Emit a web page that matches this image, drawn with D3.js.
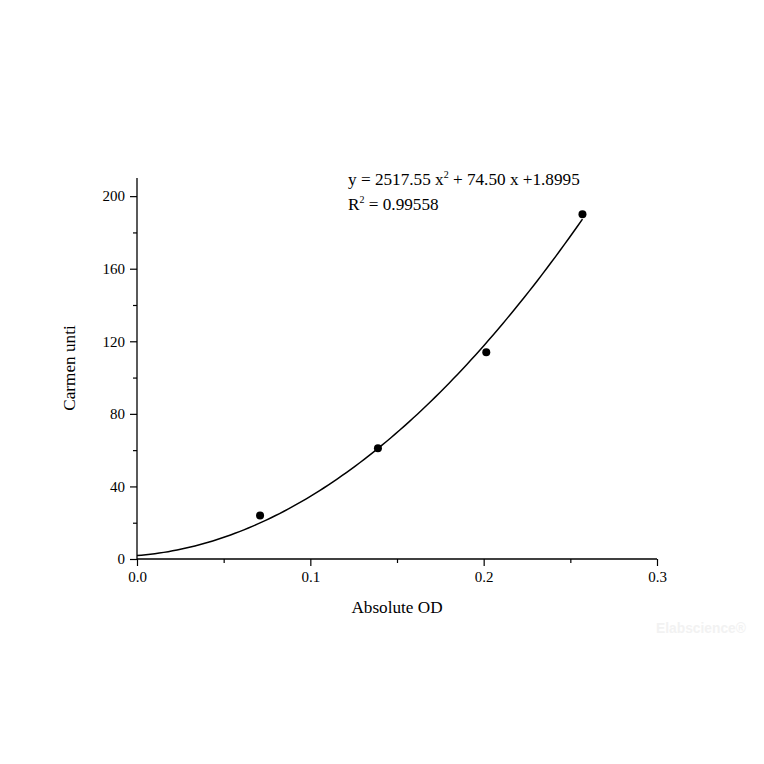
<!DOCTYPE html>
<html>
<head>
<meta charset="utf-8">
<script src="https://cdn.jsdelivr.net/npm/d3@7/dist/d3.min.js"></script>
<style>
  body { margin: 0; background: #fff; }
  svg text { font-family: "Liberation Serif", "Times New Roman", serif; fill: #000; }
</style>
</head>
<body>
<svg id="chart" width="764" height="764"></svg>
<script>
// standard curve points
var odValues = [0.071, 0.139, 0.2015, 0.257];
var unitValues = [24, 61, 114, 190];
// fit coefficients: a x^2 + b x + c
var fitCoef = [2517.55, 74.50, 1.8995];
var fitRange = [0, 0.257];
var xTicks = [0, 0.1, 0.2, 0.3];
var xMinor = [0.05, 0.15, 0.25];
var yTicks = [0, 40, 80, 120, 160, 200];
var yMinor = [20, 60, 100, 140, 180];

var svg = d3.select('#chart');
var plotLeft = 137, plotRight = 657, plotTop = 178, plotBottom = 559;

var x = d3.scaleLinear().domain([0, 0.3]).range([plotLeft, plotRight]);
var y = d3.scaleLinear().domain([0, 210]).range([plotBottom, plotTop]);

function fit(v) { return fitCoef[0] * v * v + fitCoef[1] * v + fitCoef[2]; }

// x axis
var gx = svg.append('g').attr('transform', 'translate(0,' + plotBottom + ')');
gx.call(d3.axisBottom(x).tickValues(xTicks).tickSize(7).tickPadding(5)
    .tickFormat(d3.format('.1f')));
gx.append('g').call(d3.axisBottom(x).tickValues(xMinor).tickSize(4).tickFormat(''))
  .select('.domain').remove();

// y axis
var gy = svg.append('g').attr('transform', 'translate(' + plotLeft + ',0)');
gy.call(d3.axisLeft(y).tickValues(yTicks).tickSize(7).tickPadding(5)
    .tickFormat(d3.format('d')));
gy.append('g').call(d3.axisLeft(y).tickValues(yMinor).tickSize(4).tickFormat(''))
  .select('.domain').remove();

gx.select('.domain').attr('d', 'M' + plotLeft + ',0H' + plotRight).attr('stroke-width', 1.3);
gy.select('.domain').attr('d', 'M0,' + plotBottom + 'V' + plotTop).attr('stroke-width', 1.3);
svg.selectAll('.tick line').attr('stroke-width', 1.2);
svg.selectAll('.tick text').attr('font-size', 15)
  .style('font-family', '"Liberation Serif", "Times New Roman", serif');

// fit curve
var curvePts = d3.range(0, 101).map(function(i) {
  var v = fitRange[0] + (fitRange[1] - fitRange[0]) * i / 100;
  return [v, fit(v)];
});
svg.append('path')
  .datum(curvePts)
  .attr('fill', 'none')
  .attr('stroke', '#000')
  .attr('stroke-width', 1.5)
  .attr('d', d3.line().x(function(d) { return x(d[0]); }).y(function(d) { return y(d[1]); }));

// points
svg.selectAll('circle.pt')
  .data(odValues)
  .enter()
  .append('circle')
  .attr('class', 'pt')
  .attr('cx', function(d) { return x(d); })
  .attr('cy', function(d, i) { return y(unitValues[i]); })
  .attr('r', 4)
  .attr('fill', '#000');

// equation
var eq = svg.append('text').attr('x', 348).attr('y', 185).attr('font-size', 17.2);
eq.append('tspan').text('y = 2517.55 x');
eq.append('tspan').attr('font-size', 10).attr('dy', -7).text('2');
eq.append('tspan').attr('dy', 7).text(' + 74.50 x +1.8995');

var r2 = svg.append('text').attr('x', 348).attr('y', 210).attr('font-size', 17.2);
r2.append('tspan').text('R');
r2.append('tspan').attr('font-size', 10).attr('dy', -7).text('2');
r2.append('tspan').attr('dy', 7).text(' = 0.99558');

// axis titles
svg.append('text')
  .attr('x', 397).attr('y', 613)
  .attr('text-anchor', 'middle')
  .attr('font-size', 17.2)
  .text('Absolute OD');

svg.append('text')
  .attr('transform', 'translate(75,368) rotate(-90)')
  .attr('text-anchor', 'middle')
  .attr('font-size', 17.2)
  .text('Carmen unti');

// watermark
svg.append('text')
  .attr('x', 656).attr('y', 633)
  .style('font-family', '"Liberation Sans", Arial, sans-serif')
  .attr('font-weight', 'bold')
  .attr('font-size', 13.8)
  .style('fill', '#f2f2f2')
  .text('Elabscience®');
</script>
</body>
</html>
